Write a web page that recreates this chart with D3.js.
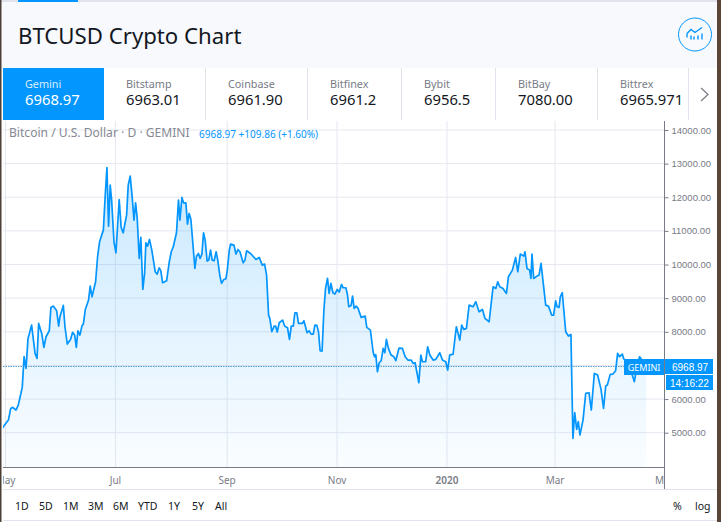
<!DOCTYPE html>
<html lang="en">

<head>
  <title>BTCUSD Crypto Chart</title>
  <meta charset="UTF-8">
  <script src="https://d3js.org/d3.v7.min.js"></script>
  <style>
    html, body {
      margin: 0;
      padding: 0;
      background-color: white;
      overflow: hidden;
    }
    svg { display: block; }
  </style>
</head>

<body>
  <svg id="chart" width="721" height="522"></svg>

  <script>
    // exchange tabs
    const exchanges = ["Gemini", "Bitstamp", "Coinbase", "Bitfinex", "Bybit", "BitBay", "Bittrex"];
    const exchangePrices = ["6968.97", "6963.01", "6961.90", "6961.2", "6956.5", "7080.00", "6965.971"];

    const priceTicks = [5000, 6000, 7000, 8000, 9000, 10000, 11000, 12000, 13000, 14000];
    const monthTicks = ["2019-05-01", "2019-07-01", "2019-09-01", "2019-11-01", "2020-01-01", "2020-03-01", "2020-05-01"];
    const monthLabels = ["May", "Jul", "Sep", "Nov", "2020", "Mar", "May"];
    const rangeButtons = ["1D", "5D", "1M", "3M", "6M", "YTD", "1Y", "5Y", "All"];

    // days since 1 May 2019
    const dayOffsets = [
      -2.1, -0.5, 1.6, 2.9, 4, 5.8, 7.1, 9.3, 10.3, 11.4, 12.5, 14.5, 16.4, 17.5, 18.4, 20.1, 21.3, 22.5, 24.3, 25.2,
      26.5, 28.4, 29.5, 30.2, 32.1, 33, 34.3, 36.1, 37.2, 38.4, 39.3, 40.2, 41.3, 42.4, 43.2, 44.3, 46.1, 47, 48, 50,
      51.1, 52.2, 54.3, 55.4, 56.3, 57.2, 58.1, 58.9, 60.2, 61.3, 63.1, 64.2, 65.3, 67.2, 68.1, 69.2, 70.3, 71.3, 72.2, 73.1,
      74.2, 75.1, 76.2, 77.2, 77.9, 78.8, 79.9, 81.2, 83.1, 84.2, 85.3, 86.2, 87.2, 89.4, 90.9, 92, 93.1, 94.9, 96, 96.8,
      97.9, 98.8, 100.1, 101, 101.9, 102.9, 105.1, 106, 107.1, 108, 109, 109.9, 110.8, 111.9, 112.8, 113.8, 114.7, 115.8, 116.9, 117.8,
      119, 119.9, 121.2, 122.3, 123.1, 124.2, 124.9, 126.8, 127.9, 129, 130.1, 131.9, 132.9, 133.8, 136, 139, 140.8, 142.5, 143.8, 144.9,
      146, 146.7, 147.8, 149.1, 149.9, 150.8, 151.9, 153.8, 154.9, 156.5, 157.6, 158.6, 159.7, 160.6, 161.7, 162.6, 164.8, 165.6, 167.4, 168.5,
      169.6, 170.8, 171.7, 172.8, 173.7, 174.6, 175.7, 176.7, 177.6, 178.7, 179.6, 180.6, 181.7, 182.8, 184.1, 185.2, 186.5, 187.4, 188.9, 189.8,
      190.5, 191.8, 192.6, 193.5, 194.6, 195.7, 197.4, 199.6, 200.5, 202.5, 204, 204.8, 205.5, 206.4, 207.4, 208.5, 209.6, 210.5, 211.4, 212.5,
      214, 215.5, 216.6, 218.4, 220.3, 221.8, 223.3, 225.1, 226.2, 227.3, 229.4, 230.5, 231.4, 233.2, 234.3, 235.5, 237.3, 238.8, 241, 242.5,
      244.3, 245.4, 246.5, 248.4, 250.2, 252.1, 253.2, 254.3, 255.8, 257.3, 259.5, 261, 262.8, 264.7, 266.1, 268.4, 270.6, 272.1, 273.2, 274.3,
      276.1, 278, 279.1, 281.3, 283.1, 284.3, 285.7, 287.6, 288.3, 289.4, 290.9, 291.6, 292.2, 293.1, 295, 296.1, 297.2, 299.8, 301.3, 303.1,
      304.2, 305.3, 306.1, 307.2, 307.9, 309, 310.9, 312.4, 313.8, 314.9, 315.9, 317, 317.9, 318.8, 320.5, 322, 323.8, 325.1, 326.8, 328.6,
      330.5, 331.9, 333.1, 334, 335.6, 337.1, 338.6, 339.7, 340.8, 342.3, 343, 344.5, 346.7, 349, 350.4, 351.9, 353.8, 355.6
    ];
    const closePrices = [
      5119, 5228, 5376, 5723, 5753, 5674, 5822, 6347, 7259, 6912, 7803, 8200, 7358, 7209, 8249, 7952, 7536, 7853, 8031, 8725,
      8764, 8626, 8170, 8447, 8784, 8150, 7635, 7774, 7982, 7902, 7536, 8031, 7902, 8170, 8229, 8665, 8943, 9359, 9042, 9488,
      10230, 10676, 11023, 12113, 12885, 11142, 12360, 11915, 10676, 10349, 11934, 11102, 10944, 11469, 12360, 12628, 12014, 11320, 11835, 11370,
      10181, 10805, 9260, 9735, 10646, 10547, 10745, 10428, 9785, 9715, 9903, 9814, 9458, 9517, 10082, 10379, 10528, 10944, 11915, 11320,
      11994, 11835, 11835, 11201, 11518, 11340, 9884, 10250, 10329, 10181, 10310, 10944, 10726, 10102, 10131, 10428, 10131, 10111, 10379, 10131,
      9656, 9438, 9557, 9577, 9834, 10428, 10607, 10577, 10310, 10448, 10379, 10052, 10131, 10409, 10329, 10151, 10211, 9983, 10012, 9686,
      8497, 8398, 8002, 8170, 8170, 7992, 8269, 8348, 8170, 8120, 7774, 8170, 8170, 8566, 8566, 8249, 8249, 8328, 7972, 8031,
      7932, 7932, 8200, 8190, 8002, 7437, 7427, 8645, 9289, 9587, 9141, 9438, 9161, 9121, 9260, 9180, 9408, 9309, 9309, 9091,
      8745, 8784, 9062, 8695, 8764, 8695, 8428, 8467, 8130, 8051, 7407, 7259, 7318, 6813, 7080, 7140, 7506, 7377, 7774, 7506,
      7308, 7259, 7140, 7516, 7506, 7259, 7160, 7160, 7061, 7080, 6486, 7308, 7110, 7110, 7556, 7308, 7160, 7179, 7377, 7160,
      7110, 6862, 7308, 7338, 8150, 7754, 8200, 8071, 8101, 8794, 8745, 8893, 8596, 8665, 8398, 8299, 9339, 9289, 9487, 9339,
      9289, 9141, 9636, 9834, 10210, 9785, 10310, 10250, 10379, 9884, 9834, 9587, 10310, 9587, 9656, 9686, 10032, 8794, 8764, 8497,
      8497, 8923, 8745, 8725, 9042, 9161, 8002, 7873, 7922, 4832, 5594, 5099, 5327, 4931, 5376, 6169, 6189, 5674, 6763, 6714,
      6288, 5723, 6387, 6417, 6734, 6744, 6843, 7358, 7259, 7338, 7209, 7110, 6912, 6516, 6961, 7259, 7110, 6968.97
    ];
    const lastPrice = 6968.97;

    const blue = "#0496ff";
    const gridColor = "#e6e8f0";
    const startDate = new Date(2019, 4, 1);
    const parseDay = d3.timeParse("%Y-%m-%d");

    const sansFont = "'Noto Sans', sans-serif";
    const axisFont = "'Liberation Sans', Arial, sans-serif";

    const svg = d3.select("#chart");

    // page background and header band
    svg.append("rect").attr("width", 721).attr("height", 522).attr("fill", "white");
    svg.append("rect").attr("width", 721).attr("height", 68).attr("fill", "#f8f9fd");
    svg.append("rect").attr("width", 721).attr("height", 2).attr("fill", "#e0e3eb");
    svg.append("rect").attr("x", 18).attr("width", 60).attr("height", 2).attr("fill", blue);

    svg.append("text")
      .attr("x", 18).attr("y", 44)
      .attr("font-family", sansFont).attr("font-size", 22.2)
      .attr("fill", "#131722")
      .text("BTCUSD Crypto Chart");

    // round icon, top right
    let icon = svg.append("g").attr("transform", "translate(695, 34.5)");
    icon.append("circle").attr("r", 16.5).attr("fill", "none").attr("stroke", blue);
    icon.append("path")
      .attr("d", "M-8,-1 L-4,-5 L0,-2 L7,-7 M-8,3 L-8,-1 M-4,5 V1 M-1,5 V2 M3,5 V1 M7,5 V-1")
      .attr("fill", "none").attr("stroke", blue).attr("stroke-width", 1.4);

    // exchange tabs
    const tabLeft = [3, 104, 206, 308, 402, 496, 598];
    const tabRight = [104, 205, 307, 401, 495, 597, 688];
    exchanges.forEach(function (name, i) {
      let active = i == 0;
      if (active) {
        svg.append("rect")
          .attr("x", tabLeft[i]).attr("y", 68)
          .attr("width", tabRight[i] - tabLeft[i]).attr("height", 52)
          .attr("fill", blue);
      } else {
        svg.append("line")
          .attr("x1", tabRight[i] + 0.5).attr("x2", tabRight[i] + 0.5)
          .attr("y1", 68).attr("y2", 120)
          .attr("stroke", "#e0e3eb");
      }
      svg.append("text")
        .attr("x", tabLeft[i] + 22).attr("y", 88)
        .attr("font-family", sansFont).attr("font-size", 10.8)
        .attr("fill", active ? "#dceeff" : "#787b86")
        .text(name);
      svg.append("text")
        .attr("x", tabLeft[i] + 22).attr("y", 105)
        .attr("font-family", sansFont).attr("font-size", 14.8)
        .attr("fill", active ? "white" : "#131722")
        .text(exchangePrices[i]);
    });
    svg.append("path")
      .attr("d", "M701,88 L708,94.5 L701,101")
      .attr("fill", "none").attr("stroke", "#787b86").attr("stroke-width", 1.2);

    // scales
    const dates = dayOffsets.map(d => new Date(startDate.getTime() + d * 864e5));
    const x = d3.scaleTime()
      .domain([parseDay(monthTicks[0]), parseDay(monthTicks[monthTicks.length - 1])])
      .range([5.5, 665]);
    const y = d3.scaleLinear().domain([5000, 14000]).range([432.7, 130]);
    const plotLeft = 3, plotRight = 664, plotTop = 121, plotBottom = 467;

    // grid
    priceTicks.forEach(function (p) {
      svg.append("line")
        .attr("x1", plotLeft).attr("x2", plotRight)
        .attr("y1", y(p)).attr("y2", y(p))
        .attr("stroke", gridColor);
    });
    monthTicks.slice(0, 6).forEach(function (m) {
      svg.append("line")
        .attr("x1", x(parseDay(m))).attr("x2", x(parseDay(m)))
        .attr("y1", plotTop).attr("y2", plotBottom)
        .attr("stroke", gridColor);
    });

    // area fill with fading gradient
    let gradient = svg.append("defs").append("linearGradient")
      .attr("id", "areaFill").attr("gradientUnits", "userSpaceOnUse")
      .attr("x1", 0).attr("x2", 0).attr("y1", y(13000)).attr("y2", plotBottom);
    gradient.append("stop").attr("offset", 0).attr("stop-color", blue).attr("stop-opacity", 0.22);
    gradient.append("stop").attr("offset", 1).attr("stop-color", blue).attr("stop-opacity", 0.02);

    svg.append("clipPath").attr("id", "plotClip").append("rect")
      .attr("x", plotLeft).attr("y", plotTop)
      .attr("width", plotRight - plotLeft).attr("height", plotBottom - plotTop);

    const area = d3.area()
      .x((d, i) => x(dates[i]))
      .y0(plotBottom)
      .y1(d => y(d));
    const line = d3.line()
      .x((d, i) => x(dates[i]))
      .y(d => y(d));

    let plot = svg.append("g").attr("clip-path", "url(#plotClip)");
    plot.append("path").attr("d", area(closePrices)).attr("fill", "url(#areaFill)");
    plot.append("path").attr("d", line(closePrices))
      .attr("fill", "none").attr("stroke", blue).attr("stroke-width", 1.7)
      .attr("stroke-linejoin", "round");

    // last price dotted line
    svg.append("line")
      .attr("x1", plotLeft).attr("x2", plotRight)
      .attr("y1", y(lastPrice)).attr("y2", y(lastPrice))
      .attr("stroke", "#2a86c8").attr("stroke-width", 0.8).attr("stroke-dasharray", "1.5,1");

    // axis lines
    svg.append("line").attr("x1", 664.5).attr("x2", 664.5).attr("y1", 121).attr("y2", 489).attr("stroke", "#787b86");
    svg.append("line").attr("x1", 3).attr("x2", 664).attr("y1", plotBottom + 0.5).attr("y2", plotBottom + 0.5).attr("stroke", "#787b86");

    // price axis, the 7000 label sits under the last price tag so it is left out
    let yAxis = svg.append("g")
      .attr("transform", "translate(664.5, 0)")
      .call(d3.axisRight(y).tickValues(priceTicks.filter(p => p != 7000)).tickSize(4).tickPadding(3).tickFormat(d3.format(".2f")));
    yAxis.select(".domain").remove();
    yAxis.selectAll("line").attr("stroke", "#787b86");
    yAxis.selectAll("text")
      .attr("font-family", axisFont).attr("font-size", 9.5).attr("fill", "#787b86");

    // month labels
    svg.append("clipPath").attr("id", "labelClip").append("rect")
      .attr("x", 3).attr("y", 470).attr("width", 661).attr("height", 18);
    let monthGroup = svg.append("g").attr("clip-path", "url(#labelClip)");
    monthTicks.forEach(function (m, i) {
      monthGroup.append("text")
        .attr("x", x(parseDay(m)))
        .attr("y", 484)
        .attr("text-anchor", "middle")
        .attr("font-family", sansFont).attr("font-size", 10)
        .attr("font-weight", monthLabels[i] == "2020" ? 600 : 400)
        .attr("fill", "#787b86")
        .text(monthLabels[i]);
    });

    // last price labels
    svg.append("rect").attr("x", 624).attr("y", 359).attr("width", 40).attr("height", 16).attr("fill", blue);
    svg.append("text").attr("x", 644).attr("y", 371).attr("text-anchor", "middle")
      .attr("font-family", sansFont).attr("font-size", 9).attr("fill", "white").text("GEMINI");
    svg.append("rect").attr("x", 665).attr("y", 359).attr("width", 48).attr("height", 15).attr("fill", blue);
    svg.append("text").attr("x", 672).attr("y", 370.5)
      .attr("font-family", axisFont).attr("font-size", 10).attr("fill", "white").text(lastPrice.toFixed(2));
    svg.append("rect").attr("x", 666).attr("y", 375).attr("width", 47).attr("height", 15).attr("fill", blue);
    svg.append("text").attr("x", 670).attr("y", 386.5)
      .attr("font-family", axisFont).attr("font-size", 10).attr("fill", "white").text("14:16:22");

    // legend line
    svg.append("text").attr("x", 9).attr("y", 137)
      .attr("font-family", sansFont).attr("font-size", 12.1).attr("fill", "#868993")
      .text("Bitcoin / U.S. Dollar · D · GEMINI");
    svg.append("text").attr("x", 199).attr("y", 138)
      .attr("font-family", sansFont).attr("font-size", 10).attr("fill", blue)
      .text("6968.97  +109.86 (+1.60%)");

    // bottom bar
    svg.append("line").attr("x1", 3).attr("x2", 721).attr("y1", 489.5).attr("y2", 489.5).attr("stroke", "#e0e3eb");
    svg.append("line").attr("x1", 3).attr("x2", 721).attr("y1", 520.5).attr("y2", 520.5).attr("stroke", "#e0e3eb");
    const rangeX = [15, 39, 63, 88, 113, 138, 168, 192, 215];
    rangeButtons.forEach(function (b, i) {
      svg.append("text").attr("x", rangeX[i]).attr("y", 510)
        .attr("font-family", sansFont).attr("font-size", 10.5).attr("fill", "#131722")
        .text(b);
    });
    svg.append("text").attr("x", 673).attr("y", 510)
      .attr("font-family", sansFont).attr("font-size", 10.5).attr("fill", "#131722").text("%");
    svg.append("text").attr("x", 695).attr("y", 510)
      .attr("font-family", sansFont).attr("font-size", 10.5).attr("fill", "#131722").text("log");

    // screenshot edges
    svg.append("rect").attr("x", 0).attr("y", 0).attr("width", 1.5).attr("height", 522).attr("fill", "#4b3f38");
    svg.append("rect").attr("x", 717).attr("y", 0).attr("width", 4).attr("height", 522).attr("fill", "#5a4536");
  </script>
</body>

</html>
